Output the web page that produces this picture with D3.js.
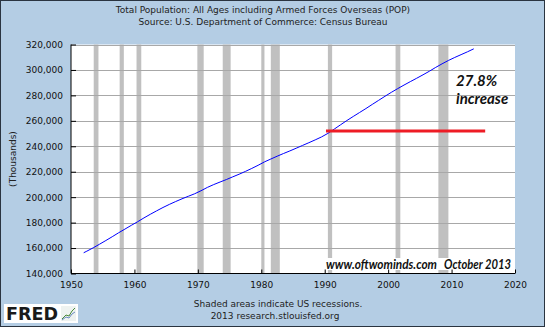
<!DOCTYPE html>
<html><head><meta charset="utf-8">
<script src="https://cdn.jsdelivr.net/npm/d3@7"></script>
<style>html,body{margin:0;padding:0;background:#b4cde4;}svg{display:block;}</style>
</head><body>
<svg id="chart" width="545" height="327"></svg>
<script>
// ---- data ----
const titleLines = ["Total Population: All Ages including Armed Forces Overseas (POP)", "Source: U.S. Department of Commerce: Census Bureau"];
const yTicks = [140000,160000,180000,200000,220000,240000,260000,280000,300000,320000];
const xTicks = [1950,1960,1970,1980,1990,2000,2010,2020];
const popYears = [1952.0,1952.5,1953.5,1954.5,1955.5,1956.5,1957.5,1958.5,1959.5,1960.5,1961.5,1962.5,1963.5,1964.5,1965.5,1966.5,1967.5,1968.5,1969.5,1970.5,1971.5,1972.5,1973.5,1974.5,1975.5,1976.5,1977.5,1978.5,1979.5,1980.5,1981.5,1982.5,1983.5,1984.5,1985.5,1986.5,1987.5,1988.5,1989.5,1990.5,1991.5,1992.5,1993.5,1994.5,1995.5,1996.5,1997.5,1998.5,1999.5,2000.5,2001.5,2002.5,2003.5,2004.5,2005.5,2006.5,2007.5,2008.5,2009.5,2010.5,2011.5,2012.5,2013.5];
const popValues = [156300,157553,160184,163026,165931,168903,171984,174882,177830,180671,183691,186538,189242,191889,194303,196560,198712,200706,202677,205052,207661,209896,211909,213854,215973,218035,220239,222585,225055,227726,229966,232188,234307,236348,238466,240651,242804,245021,247342,250132,253493,256894,260255,263436,266557,269667,272912,276115,279295,282385,285309,288105,290820,293463,296186,298996,302004,304798,307439,309807,312033,314246,316600];
const recessionStart = [1953.58,1957.67,1960.33,1969.92,1973.92,1980.0,1981.5,1990.5,2001.17,2007.92];
const recessionEnd   = [1954.33,1958.33,1961.08,1970.92,1975.17,1980.5,1982.92,1991.17,2001.92,2009.5];
const refLineX = [1990.2, 2015.3];
const refLineValue = 252000;
const annotationLines = ["27.8%", "increase"];
const annotationAt = [2010.7, 1];
const watermarkParts = ["www.oftwominds.com", "October 2013"];
const footerLines = ["Shaded areas indicate US recessions.", "2013 research.stlouisfed.org"];

// ---- layout ----
const svg = d3.select("#chart");
const W = 545, H = 327;
const L = 71, R = 515, T = 44.5, B = 273.5;
const x = d3.scaleLinear().domain([1950, 2020]).range([L, R]);
const y = d3.scaleLinear().domain([140000, 320000]).range([B, T]);
const font = "'DejaVu Sans', Verdana, sans-serif";

svg.append("rect").attr("x",0.5).attr("y",0.5).attr("width",W-1).attr("height",H-1)
  .attr("fill","#b4cde4").attr("stroke","#2a3440").attr("stroke-width",1);

// title
svg.append("g").selectAll("text").data(titleLines).join("text")
  .attr("x", 263).attr("y", (d,i)=> 13 + i*11.5)
  .attr("text-anchor","middle").attr("font-family",font).attr("font-size",9).attr("fill","#222")
  .text(d=>d);

// plot bg
svg.append("rect").attr("x",L).attr("y",T).attr("width",R-L).attr("height",B-T).attr("fill","#fff");

// recessions
svg.append("g").selectAll("rect").data(recessionStart).join("rect")
  .attr("x",(d)=>x(d)).attr("width",(d,i)=>x(recessionEnd[i])-x(d))
  .attr("y",T).attr("height",B-T).attr("fill","#c0c0c0");

// gridlines
svg.append("g").selectAll("line").data(yTicks.slice(1)).join("line")
  .attr("x1",L).attr("x2",R).attr("y1",d=>Math.round(y(d))+0.5).attr("y2",d=>Math.round(y(d))+0.5)
  .attr("stroke","#a8a8a8").attr("stroke-width",1);

// watermark background + text
svg.append("rect").attr("x",324).attr("y",258).attr("width",190).attr("height",12).attr("fill","#fff");
const wmFont = "Lato, 'Open Sans', sans-serif";
svg.append("text").attr("x",326).attr("y",269)
  .attr("font-family",wmFont).attr("font-weight","bold").attr("font-style","italic")
  .attr("font-size",13).attr("textLength",111).attr("lengthAdjust","spacingAndGlyphs").attr("fill","#111")
  .text(watermarkParts[0]);
svg.append("text").attr("x",444).attr("y",269)
  .attr("font-family",wmFont).attr("font-weight","bold").attr("font-style","italic")
  .attr("font-size",13).attr("textLength",67).attr("lengthAdjust","spacingAndGlyphs").attr("fill","#111")
  .text(watermarkParts[1]);

// series line
const pts = popYears.map((t,i)=>[t,popValues[i]]);
svg.append("path").datum(pts)
  .attr("d", d3.line().x(d=>x(d[0])).y(d=>y(d[1])))
  .attr("fill","none").attr("stroke","#0000ff").attr("stroke-width",1);

// red reference line
svg.append("line").attr("x1",x(refLineX[0])).attr("x2",x(refLineX[1]))
  .attr("y1",y(refLineValue)).attr("y2",y(refLineValue))
  .attr("stroke","#ee1c25").attr("stroke-width",3);

// annotation
svg.append("g").selectAll("text").data(annotationLines).join("text")
  .attr("x", x(annotationAt[0])).attr("y",(d,i)=>86 + i*17.5)
  .attr("font-family",wmFont).attr("font-weight","bold").attr("font-style","italic")
  .attr("font-size",15).attr("fill","#111").text(d=>d);

// axes
const yAxis = d3.axisLeft(y).tickValues(yTicks).tickFormat(d3.format(",")).tickSize(-5).tickPadding(8);
const gy = svg.append("g").attr("transform",`translate(${L},0)`).call(yAxis);
const xAxis = d3.axisBottom(x).tickValues(xTicks).tickFormat(d3.format("d")).tickSize(-4).tickPadding(8);
const gx = svg.append("g").attr("transform",`translate(0,${B})`).call(xAxis);
[gy,gx].forEach(g=>{
  g.selectAll("text").attr("font-family",font).attr("font-size",9).attr("fill","#111");
  g.selectAll("line").attr("stroke","#000");
  g.select(".domain").attr("stroke","#000").attr("d", g===gy ? `M0,${T}V${B}` : `M${L},0H${R}`);
});
gy.selectAll("text").attr("x",-8);

// y label
svg.append("text").attr("transform",`translate(13,${(T+B)/2}) rotate(-90)`)
  .attr("text-anchor","middle").attr("dominant-baseline","middle")
  .attr("font-family",font).attr("font-size",9).attr("fill","#222").text("(Thousands)");

// footer
svg.append("g").selectAll("text").data(footerLines).join("text")
  .attr("x",(d,i)=> i===0 ? 278 : 275).attr("y",(d,i)=>307 + i*12)
  .attr("text-anchor","middle").attr("font-family",font).attr("font-size",9).attr("fill","#222").text(d=>d);

// FRED logo
const logo = svg.append("g");
logo.append("rect").attr("x",4).attr("y",304).attr("width",74).attr("height",19).attr("fill","#fff");
logo.append("text").attr("x",6).attr("y",320).attr("font-family","'DejaVu Sans', sans-serif").attr("font-weight","bold")
  .attr("font-size",17).attr("textLength",52).attr("lengthAdjust","spacingAndGlyphs").attr("fill","#1a1a1a").text("FRED");
logo.append("rect").attr("x",61).attr("y",306).attr("width",15).attr("height",15).attr("fill","#eef2f0");
logo.append("path").attr("d","M62,319 L66,315 L69,316 L72,311 L75,308").attr("fill","none").attr("stroke","#4a8a3a").attr("stroke-width",1);
logo.append("path").attr("d","M62,320 L66,317 L69,318 L72,314 L75,312").attr("fill","none").attr("stroke","#6a8ac0").attr("stroke-width",1);
</script>
</body></html>
